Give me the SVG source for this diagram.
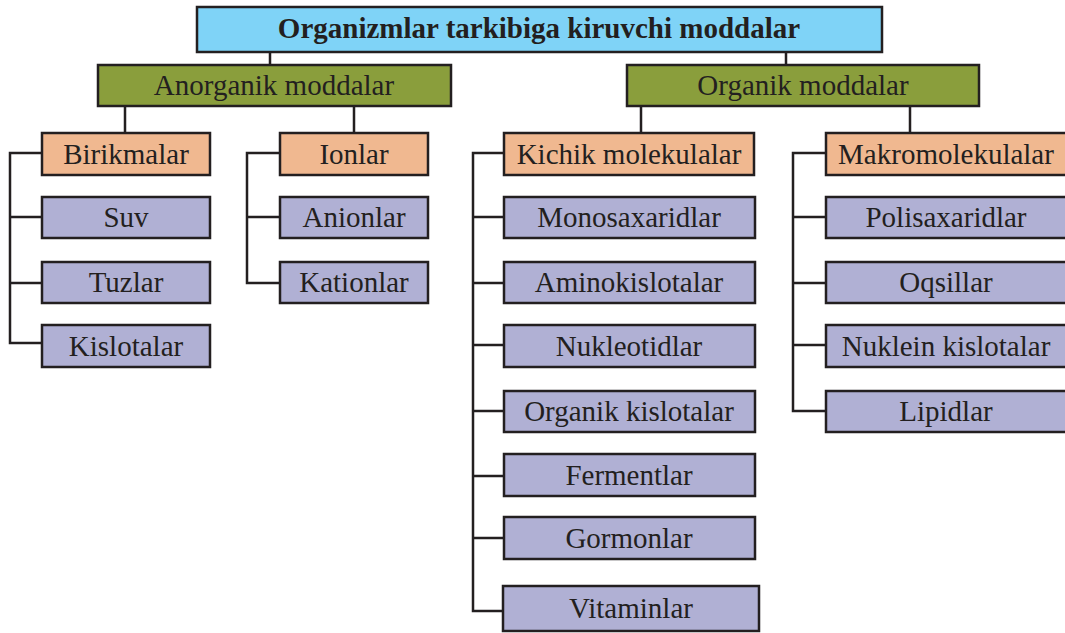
<svg xmlns="http://www.w3.org/2000/svg" width="1065" height="633" viewBox="0 0 1065 633">
<style>
rect{stroke:#231f20;stroke-width:2.5}
.t{fill:#7fd3f7}.g{fill:#8a9e3c}.o{fill:#f0b890}.p{fill:#b0b0d4}
text{font-family:"Liberation Serif","Times New Roman",serif;font-size:29px;fill:#231f20;text-anchor:middle}
.b{font-weight:bold}
#connectors path{fill:none;stroke:#231f20;stroke-width:2.5}
</style>
<rect width="1065" height="633" fill="#fff" style="stroke:none"/>
<g id="connectors">
<path d="M270,52V65M786,52V65M125,106V133M354,106V133M641,106V133M910,106V133"/>
<path d="M42,153H10V343H42M10,217H42M10,283H42"/>
<path d="M280,153H247V283H280M247,217H280"/>
<path d="M504,153H473V611H503M473,217H504M473,283H504M473,345H504M473,411H504M473,476H504M473,538H504"/>
<path d="M826,153H793V411H826M793,217H826M793,283H826M793,345H826"/>
</g>
<g id="root"><rect class="t" x="197" y="7" width="685" height="45"/><text class="b" x="539" y="38">Organizmlar tarkibiga kiruvchi moddalar</text></g>
<g id="anorganik"><rect class="g" x="98" y="65" width="353" height="41"/><text x="274" y="95">Anorganik moddalar</text></g>
<g id="organik"><rect class="g" x="627" y="65" width="352" height="41"/><text x="803" y="95">Organik moddalar</text></g>
<g id="birikmalar"><rect class="o" x="42" y="133" width="168" height="42"/><text x="126" y="164">Birikmalar</text></g>
<g id="ionlar"><rect class="o" x="280" y="133" width="148" height="42"/><text x="354" y="164">Ionlar</text></g>
<g id="kichik"><rect class="o" x="504" y="133" width="250" height="42"/><text x="629" y="164">Kichik molekulalar</text></g>
<g id="makro"><rect class="o" x="826" y="133" width="245" height="42"/><text x="946" y="164">Makromolekulalar</text></g>
<g id="suv"><rect class="p" x="42" y="197" width="168" height="41"/><text x="126" y="227">Suv</text></g>
<g id="tuzlar"><rect class="p" x="42" y="262" width="168" height="41"/><text x="126" y="292">Tuzlar</text></g>
<g id="kislotalar"><rect class="p" x="42" y="325" width="168" height="42"/><text x="126" y="356">Kislotalar</text></g>
<g id="anionlar"><rect class="p" x="280" y="197" width="148" height="41"/><text x="354" y="227">Anionlar</text></g>
<g id="kationlar"><rect class="p" x="280" y="262" width="148" height="41"/><text x="354" y="292">Kationlar</text></g>
<g id="monosaxaridlar"><rect class="p" x="504" y="197" width="251" height="41"/><text x="629" y="227">Monosaxaridlar</text></g>
<g id="aminokislotalar"><rect class="p" x="504" y="262" width="251" height="41"/><text x="629" y="292">Aminokislotalar</text></g>
<g id="nukleotidlar"><rect class="p" x="504" y="325" width="251" height="42"/><text x="629" y="356">Nukleotidlar</text></g>
<g id="organik-kislotalar"><rect class="p" x="504" y="391" width="251" height="41"/><text x="629" y="421">Organik kislotalar</text></g>
<g id="fermentlar"><rect class="p" x="504" y="454" width="251" height="42"/><text x="629" y="485">Fermentlar</text></g>
<g id="gormonlar"><rect class="p" x="504" y="517" width="251" height="42"/><text x="629" y="548">Gormonlar</text></g>
<g id="vitaminlar"><rect class="p" x="503" y="586" width="256" height="45"/><text x="631" y="618">Vitaminlar</text></g>
<g id="polisaxaridlar"><rect class="p" x="826" y="197" width="245" height="41"/><text x="946" y="227">Polisaxaridlar</text></g>
<g id="oqsillar"><rect class="p" x="826" y="262" width="245" height="41"/><text x="946" y="292">Oqsillar</text></g>
<g id="nuklein"><rect class="p" x="826" y="325" width="245" height="42"/><text x="946" y="356">Nuklein kislotalar</text></g>
<g id="lipidlar"><rect class="p" x="826" y="391" width="245" height="41"/><text x="946" y="421">Lipidlar</text></g>
</svg>
